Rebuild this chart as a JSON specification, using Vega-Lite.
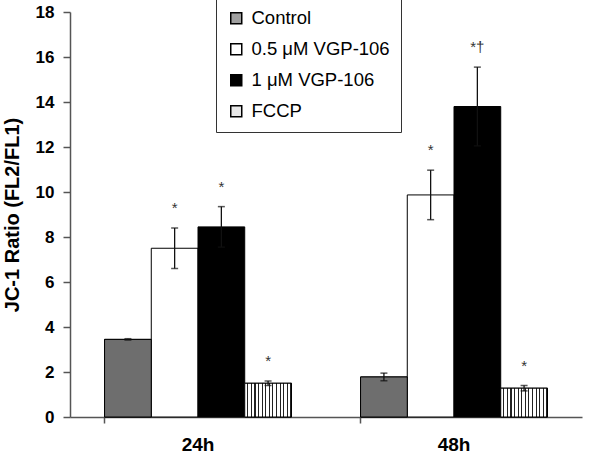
{
  "$schema": "https://vega.github.io/schema/vega-lite/v6.json",
  "width": 512,
  "height": 405,
  "autosize": "none",
  "padding": {"left": 70, "top": 12, "right": 18, "bottom": 36},
  "background": "white",
  "config": {
    "view": {"stroke": null},
    "font": "Liberation Sans",
    "axis": {"grid": false, "domainColor": "#555", "tickColor": "#555", "labelColor": "black", "titleColor": "black", "labelFont": "Liberation Sans", "titleFont": "Liberation Sans"},
    "legend": {"labelFont": "Liberation Sans"}
  },
  "data": {
    "values": [
      {"time": "24h", "group": "Control", "mean": 3.45, "lo": 3.42, "hi": 3.48, "sig": ""},
      {"time": "24h", "group": "0.5 μM VGP-106", "mean": 7.5, "lo": 6.6, "hi": 8.4, "sig": "*"},
      {"time": "24h", "group": "1 μM VGP-106", "mean": 8.45, "lo": 7.55, "hi": 9.35, "sig": "*"},
      {"time": "24h", "group": "FCCP", "mean": 1.5, "lo": 1.4, "hi": 1.6, "sig": "*"},
      {"time": "48h", "group": "Control", "mean": 1.78, "lo": 1.61, "hi": 1.95, "sig": ""},
      {"time": "48h", "group": "0.5 μM VGP-106", "mean": 9.87, "lo": 8.77, "hi": 10.97, "sig": "*"},
      {"time": "48h", "group": "1 μM VGP-106", "mean": 13.8, "lo": 12.05, "hi": 15.55, "sig": "*†"},
      {"time": "48h", "group": "FCCP", "mean": 1.28, "lo": 1.16, "hi": 1.4, "sig": "*"}
    ]
  },
  "encoding": {
    "x": {
      "field": "time", "type": "nominal",
      "scale": {"paddingInner": 0.27, "paddingOuter": 0.135},
      "axis": {"title": null, "labelAngle": 0, "bandPosition": 0, "labelFontSize": 19, "labelFontWeight": "bold", "tickSize": 6, "labelPadding": 12, "domainWidth": 1.5, "tickWidth": 1.5}
    },
    "xOffset": {
      "field": "group", "type": "nominal",
      "scale": {"domain": ["Control", "0.5 μM VGP-106", "1 μM VGP-106", "FCCP"], "paddingInner": 0, "paddingOuter": 0}
    }
  },
  "layer": [
    {
      "mark": {"type": "bar", "stroke": "black", "strokeWidth": 1},
      "encoding": {
        "y": {
          "field": "mean", "type": "quantitative",
          "scale": {"domain": [0, 18], "nice": false},
          "axis": {"title": "JC-1 Ratio (FL2/FL1)", "values": [0, 2, 4, 6, 8, 10, 12, 14, 16, 18], "labelFontSize": 17, "labelFontWeight": "bold", "titleFontSize": 20, "titleFontWeight": "bold", "tickSize": 7, "labelPadding": 9, "titlePadding": 13, "domainWidth": 1.5, "tickWidth": 1.5}
        },
        "color": {
          "field": "group", "type": "nominal",
          "scale": {"domain": ["Control", "0.5 μM VGP-106", "1 μM VGP-106", "FCCP"], "range": ["#a0a0a0", "#ffffff", "#000000", "#e8e8e8"]},
          "legend": {
            "title": null,
            "orient": "none",
            "legendX": 146,
            "legendY": -14,
            "strokeColor": "#333",
            "fillColor": "white",
            "padding": 11,
            "symbolType": "square",
            "symbolSize": 121,
            "symbolOpacity": 1,
            "labelFontSize": 18.5,
            "labelOffset": 6,
            "rowPadding": 12,
            "encode": {
              "symbols": {
                "stroke": {"value": "black"},
                "strokeWidth": {"value": 1}
              }
            }
          }
        }
      }
    },
    {
      "transform": [{"filter": "datum.group === 'Control'"}],
      "mark": {"type": "bar", "stroke": "black", "strokeWidth": 1, "fill": "#6e6e6e"},
      "encoding": {
        "y": {"field": "mean", "type": "quantitative"}
      }
    },
    {
      "transform": [{"filter": "datum.group === 'FCCP'"}],
      "mark": {
        "type": "bar", "stroke": "black", "strokeWidth": 1,
        "fill": {"gradient": "linear", "x1": 0, "x2": 1, "y1": 0, "y2": 0, "stops": [
          {"offset": 0, "color": "#ffffff"}, {"offset": 0.0538, "color": "#ffffff"}, {"offset": 0.0538, "color": "#222222"}, {"offset": 0.0769, "color": "#222222"},
          {"offset": 0.0769, "color": "#ffffff"}, {"offset": 0.1308, "color": "#ffffff"}, {"offset": 0.1308, "color": "#222222"}, {"offset": 0.1538, "color": "#222222"},
          {"offset": 0.1538, "color": "#ffffff"}, {"offset": 0.2077, "color": "#ffffff"}, {"offset": 0.2077, "color": "#222222"}, {"offset": 0.2308, "color": "#222222"},
          {"offset": 0.2308, "color": "#ffffff"}, {"offset": 0.2846, "color": "#ffffff"}, {"offset": 0.2846, "color": "#222222"}, {"offset": 0.3077, "color": "#222222"},
          {"offset": 0.3077, "color": "#ffffff"}, {"offset": 0.3615, "color": "#ffffff"}, {"offset": 0.3615, "color": "#222222"}, {"offset": 0.3846, "color": "#222222"},
          {"offset": 0.3846, "color": "#ffffff"}, {"offset": 0.4385, "color": "#ffffff"}, {"offset": 0.4385, "color": "#222222"}, {"offset": 0.4615, "color": "#222222"},
          {"offset": 0.4615, "color": "#ffffff"}, {"offset": 0.5154, "color": "#ffffff"}, {"offset": 0.5154, "color": "#222222"}, {"offset": 0.5385, "color": "#222222"},
          {"offset": 0.5385, "color": "#ffffff"}, {"offset": 0.5923, "color": "#ffffff"}, {"offset": 0.5923, "color": "#222222"}, {"offset": 0.6154, "color": "#222222"},
          {"offset": 0.6154, "color": "#ffffff"}, {"offset": 0.6692, "color": "#ffffff"}, {"offset": 0.6692, "color": "#222222"}, {"offset": 0.6923, "color": "#222222"},
          {"offset": 0.6923, "color": "#ffffff"}, {"offset": 0.7462, "color": "#ffffff"}, {"offset": 0.7462, "color": "#222222"}, {"offset": 0.7692, "color": "#222222"},
          {"offset": 0.7692, "color": "#ffffff"}, {"offset": 0.8231, "color": "#ffffff"}, {"offset": 0.8231, "color": "#222222"}, {"offset": 0.8462, "color": "#222222"},
          {"offset": 0.8462, "color": "#ffffff"}, {"offset": 0.9, "color": "#ffffff"}, {"offset": 0.9, "color": "#222222"}, {"offset": 0.9231, "color": "#222222"},
          {"offset": 0.9231, "color": "#ffffff"}, {"offset": 0.9769, "color": "#ffffff"}, {"offset": 0.9769, "color": "#222222"}, {"offset": 1, "color": "#222222"}
        ]}
      },
      "encoding": {
        "y": {"field": "mean", "type": "quantitative"}
      }
    },
    {
      "mark": {"type": "rule", "color": "#111", "strokeWidth": 1.3},
      "encoding": {
        "y": {"field": "lo", "type": "quantitative"},
        "y2": {"field": "hi"}
      }
    },
    {
      "mark": {"type": "tick", "color": "#111", "size": 7, "thickness": 1.5},
      "encoding": {
        "y": {"field": "hi", "type": "quantitative"}
      }
    },
    {
      "mark": {"type": "tick", "color": "#111", "size": 7, "thickness": 1.5},
      "encoding": {
        "y": {"field": "lo", "type": "quantitative"}
      }
    },
    {
      "mark": {"type": "text", "fontSize": 15, "fill": "#333", "baseline": "alphabetic", "dy": -15},
      "encoding": {
        "y": {"field": "hi", "type": "quantitative"},
        "text": {"field": "sig"}
      }
    }
  ]
}
